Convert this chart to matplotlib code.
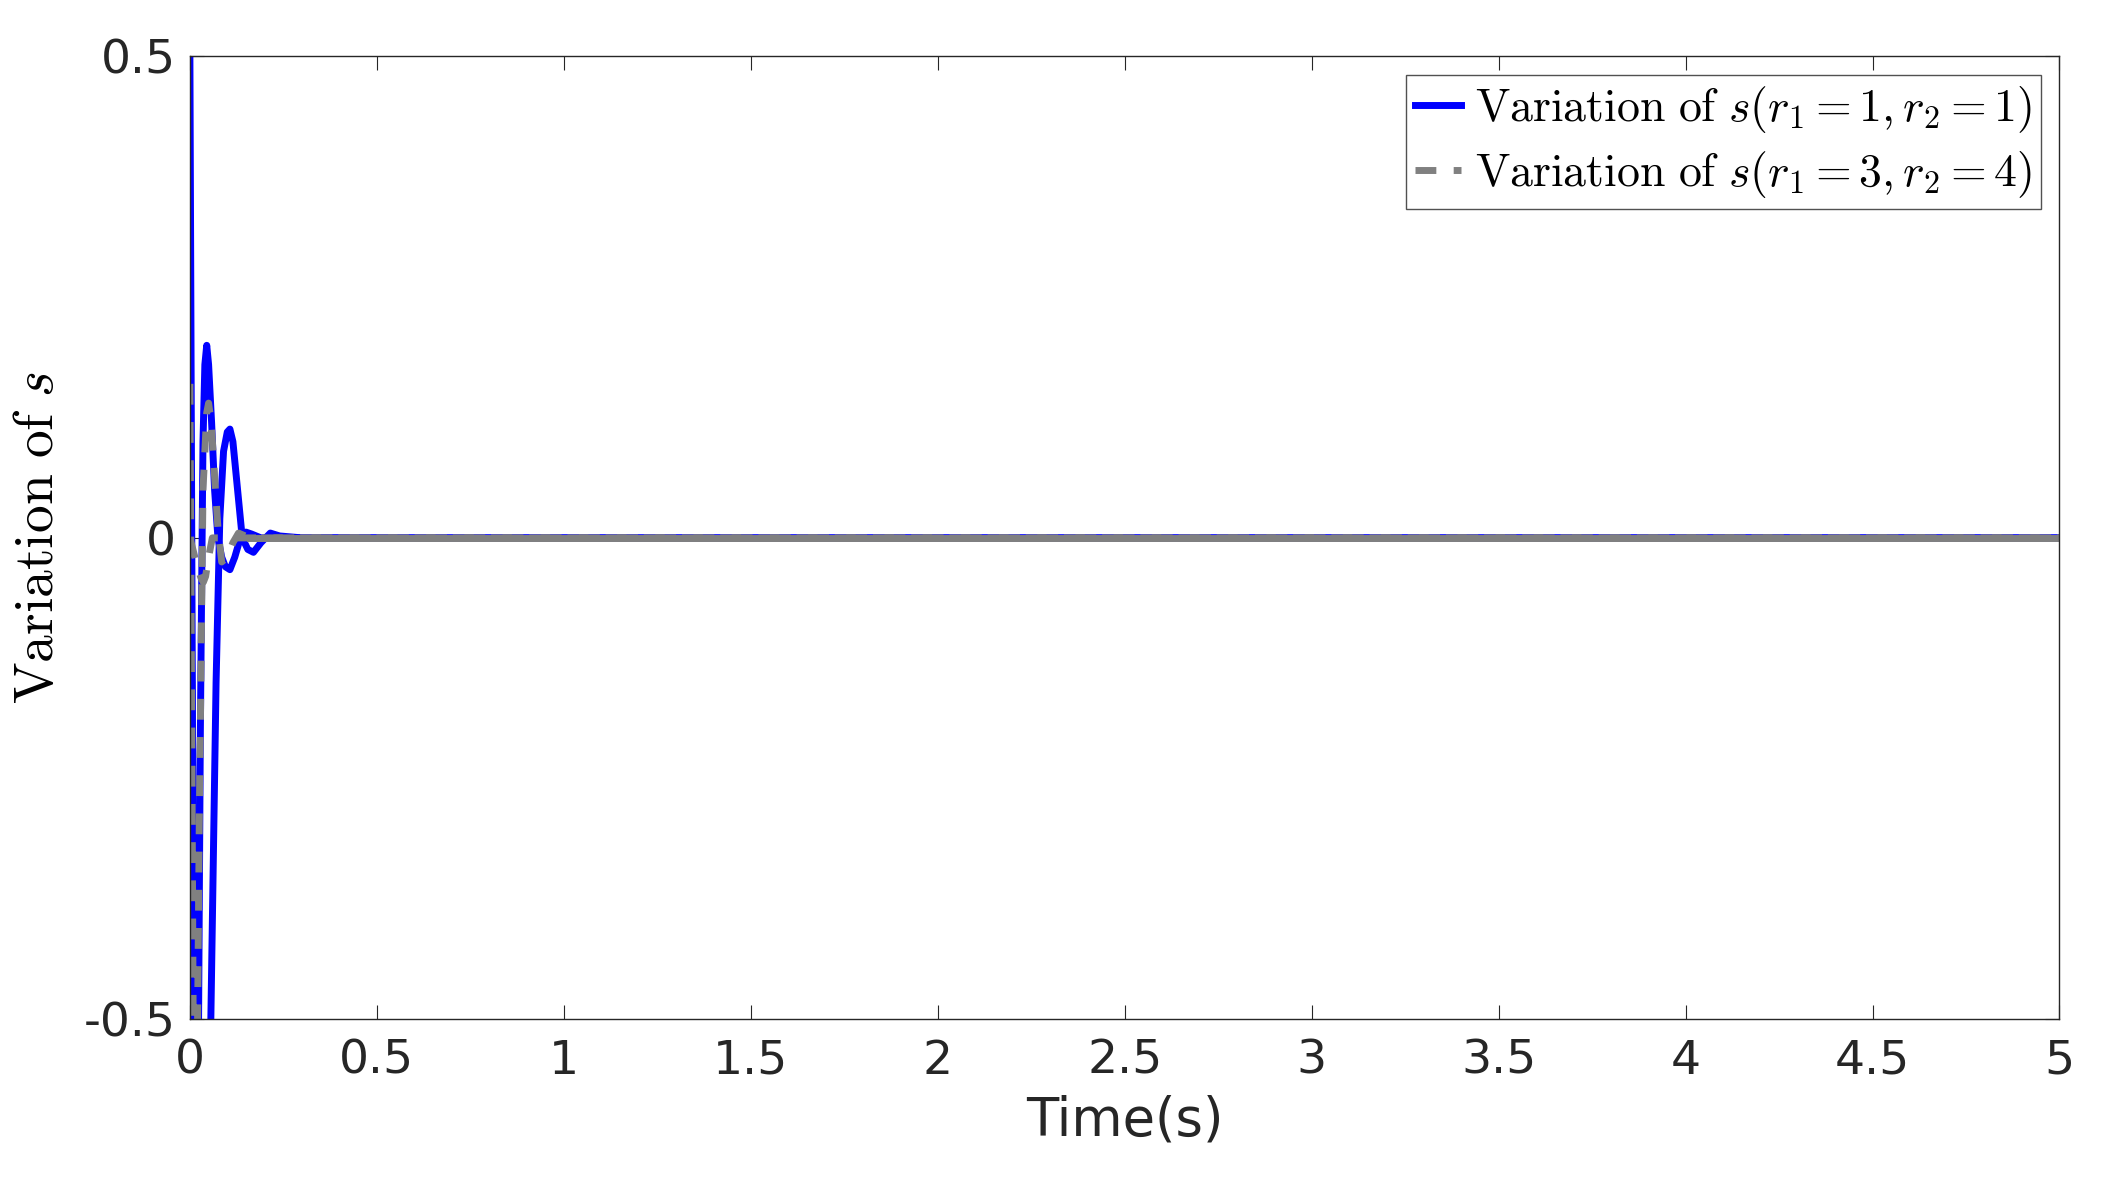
import matplotlib
matplotlib.use("Agg")
import matplotlib.pyplot as plt

plt.rcParams['mathtext.fontset'] = 'cm'

# blue series (r1=1, r2=1): two components
t_b1 = [0, 0.004, 0.008, 0.012, 0.02, 0.028, 0.035, 0.04, 0.045, 0.05, 0.058, 0.066, 0.075, 0.085, 0.095, 0.107, 0.12, 0.135, 0.15, 0.165, 0.19, 0.25, 5]
s_b1 = [0.5, 0.1, -0.3, -0.62, -0.7, -0.2, 0.1, 0.18, 0.2, 0.18, 0.12, 0.05, 0.0, -0.02, -0.03, -0.033, -0.02, 0.0, 0.006, 0.004, 0.0, 0.0, 0.0]
t_b2 = [0, 0.01, 0.02, 0.035, 0.05, 0.06, 0.07, 0.08, 0.09, 0.1, 0.107, 0.115, 0.125, 0.14, 0.155, 0.17, 0.19, 0.215, 0.24, 0.3, 5]
s_b2 = [0.0, -0.3, -0.6, -0.9, -0.65, -0.4, -0.15, 0.02, 0.09, 0.11, 0.113, 0.1, 0.06, 0.0, -0.012, -0.015, -0.005, 0.005, 0.002, 0.0, 0.0]

# grey series (r1=3, r2=4)
t_g1 = [0, 0.005, 0.01, 0.015, 0.025, 0.035, 0.045, 0.05, 0.057, 0.065, 0.075, 0.085, 0.1, 0.115, 0.13, 0.16, 5]
s_g1 = [0.16, -0.2, -0.6, -0.75, -0.3, 0.05, 0.13, 0.14, 0.12, 0.07, 0.01, -0.025, -0.02, -0.005, 0.005, 0.0, 0.0]
t_g2 = [0, 0.01, 0.02, 0.03, 0.036, 0.042, 0.05, 0.06, 5]
s_g2 = [0.0, -0.015, -0.03, -0.042, -0.046, -0.04, -0.02, 0.0, 0.0]

fig = plt.figure(figsize=(21.03, 11.77), dpi=100)
ax = fig.add_axes([0.0903, 0.134, 0.889, 0.818])

ax.plot(t_b1, s_b1, color='#0000ff', lw=5, label=r'$\mathrm{Variation\ of\ }s(r_1=1,r_2=1)$')
ax.plot(t_b2, s_b2, color='#0000ff', lw=5)
ax.plot(t_g1, s_g1, color='#808080', lw=5, ls='--', dashes=(3, 2.5), label=r'$\mathrm{Variation\ of\ }s(r_1=3,r_2=4)$')
ax.plot(t_g2, s_g2, color='#808080', lw=5, ls='--', dashes=(3, 2.5))
# the settled tail looks solid grey in the reference
ax.plot(t_g1[-2:], s_g1[-2:], color='#808080', lw=5)

ax.set_xlim(0, 5)
ax.set_ylim(-0.5, 0.5)
ax.set_xticks([0, 0.5, 1, 1.5, 2, 2.5, 3, 3.5, 4, 4.5, 5])
ax.set_xticklabels(['0', '0.5', '1', '1.5', '2', '2.5', '3', '3.5', '4', '4.5', '5'])
ax.set_yticks([-0.5, 0, 0.5])
ax.set_yticklabels(['-0.5', '0', '0.5'])
ax.tick_params(labelsize=34, direction='in', length=10, top=True, right=True, colors='#262626')
ax.tick_params(axis='x', pad=14)
ax.tick_params(axis='y', pad=10)
for sp in ax.spines.values():
    sp.set_color('#262626')
    sp.set_linewidth(1)

ax.set_xlabel('Time(s)', fontsize=38, color='#262626', labelpad=8)
ax.set_ylabel(r'$\mathrm{Variation\ of\ }s$', fontsize=40, labelpad=14)

leg = ax.legend(loc='upper right', fontsize=33, fancybox=False, edgecolor='#262626',
                handlelength=1.0, handletextpad=0.3, borderpad=0.2,
                labelspacing=0.3, borderaxespad=0.4)
leg.get_frame().set_linewidth(1)

fig.savefig('out.png', dpi=100)
